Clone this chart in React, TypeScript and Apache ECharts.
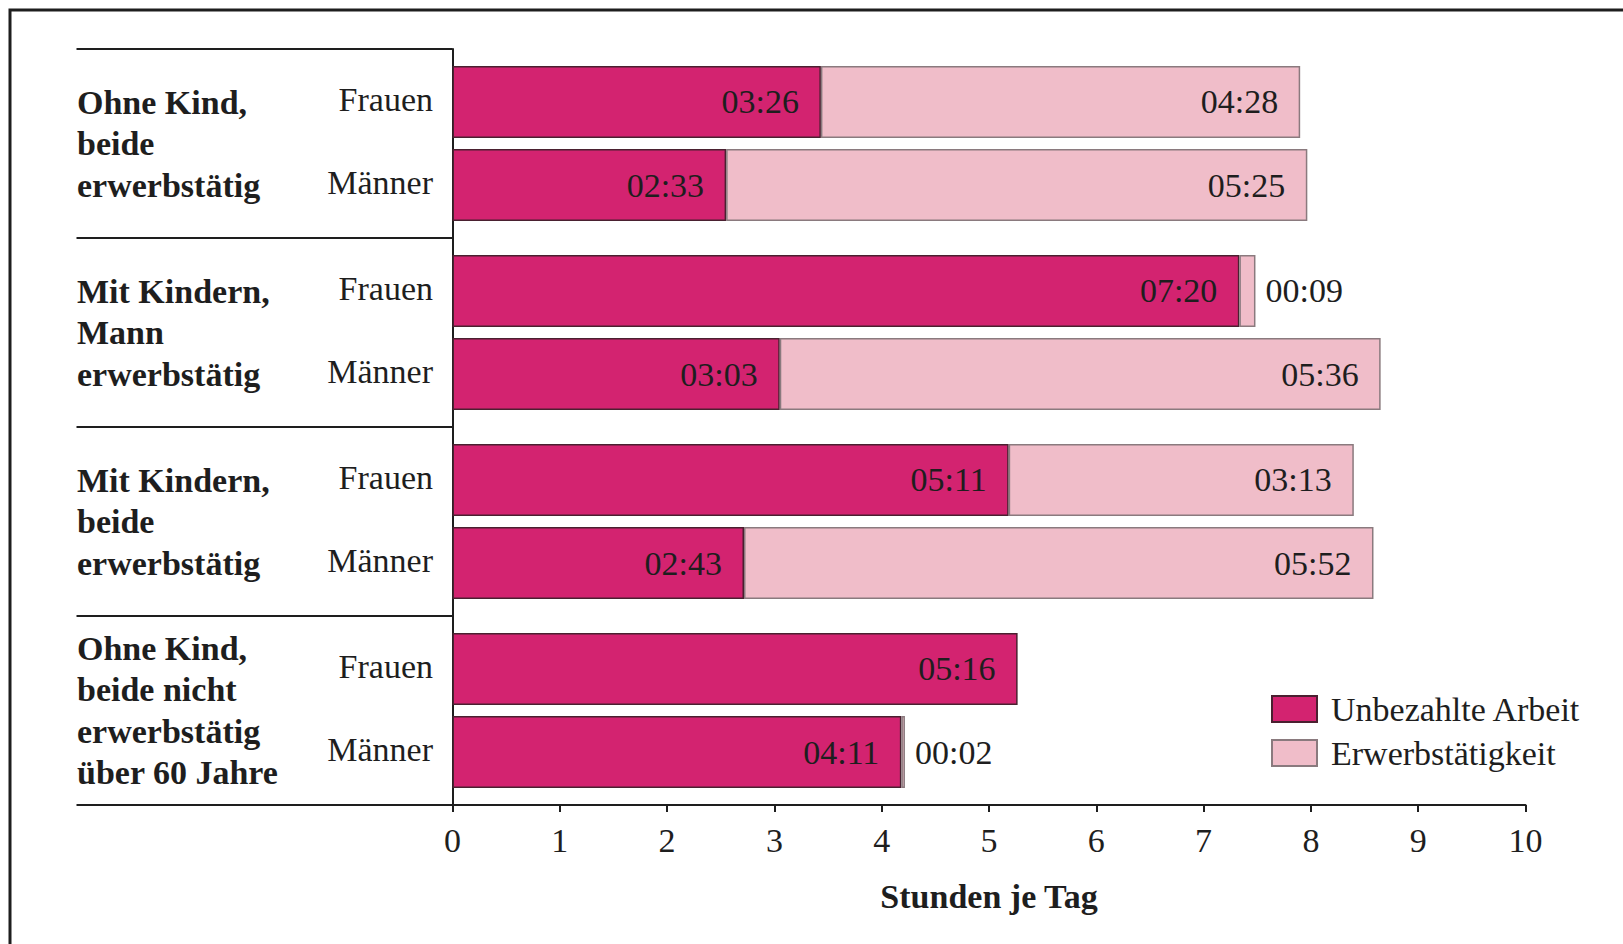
import React, { useEffect, useRef } from "react";
import * as echarts from "echarts";

const groupLabels = [
  "Ohne Kind,\nbeide\nerwerbstätig",
  "Mit Kindern,\nMann\nerwerbstätig",
  "Mit Kindern,\nbeide\nerwerbstätig",
  "Ohne Kind,\nbeide nicht\nerwerbstätig\nüber 60 Jahre",
];
const personLabels = ["Frauen", "Männer"];
const frauenUnbezahlt = ["03:26", "07:20", "05:11", "05:16"];
const frauenErwerb = ["04:28", "00:09", "03:13", null];
const maennerUnbezahlt = ["02:33", "03:03", "02:43", "04:11"];
const maennerErwerb = ["05:25", "05:36", "05:52", "00:02"];
const xTicks = [0, 10, 1];
const seriesNames = ["Unbezahlte Arbeit", "Erwerbstätigkeit"];

const FONT = '"Liberation Serif", "DejaVu Serif", serif';
const MAGENTA = "#D32370";
const PINK = "#F0BDC9";
const INK = "#1e1e1e";

const toHours = (s: string | null) => {
  if (!s) return null;
  const [h, m] = s.split(":").map(Number);
  return h + m / 60;
};

const GRID_LEFT = 452.5;
const GRID_TOP = 49;
const GRID_RIGHT_X = 1525.5;
const GRID_BOTTOM_Y = 805;
const BAR_W = 72;
const BAR_GAP = 11;

function makeSeries(name: string, stack: string, vals: (string | null)[], color: string, border: string) {
  return {
    type: "bar",
    name,
    stack,
    barWidth: BAR_W,
    barGap: ((BAR_GAP / BAR_W) * 100).toFixed(1) + "%",
    itemStyle: { color, borderColor: border, borderWidth: 1.5 },
    data: vals.map((v) => {
      const h = toHours(v);
      if (h === null) return null;
      const small = h < 0.5;
      return {
        value: h,
        label: small
          ? { show: true, position: "right", distance: 10 }
          : { show: true, position: "insideRight", distance: 22 },
      };
    }),
    label: {
      show: true,
      fontFamily: FONT,
      fontSize: 34,
      color: INK,
      formatter: (p: any) => vals[p.dataIndex] ?? "",
    },
  };
}

export default function App() {
  const ref = useRef<HTMLDivElement>(null);
  useEffect(() => {
    if (!ref.current) return;
    const chart = echarts.init(ref.current, undefined, { renderer: "svg" });
    const band = (GRID_BOTTOM_Y - GRID_TOP) / groupLabels.length;
    const half = (BAR_W + BAR_GAP) / 2;
    const personTexts: any[] = [];
    groupLabels.forEach((_, i) => {
      const c = GRID_TOP + band * (i + 0.5);
      personLabels.forEach((p, j) => {
        personTexts.push({
          type: "text",
          x: 433,
          y: c + (j === 0 ? -half : half) - 3,
          style: {
            text: p,
            fontFamily: FONT,
            fontSize: 34,
            fill: INK,
            textAlign: "right",
            textVerticalAlign: "middle",
          },
        });
      });
    });
    chart.setOption({
      animation: false,
      textStyle: { fontFamily: FONT },
      grid: {
        left: GRID_LEFT,
        top: GRID_TOP,
        right: 1623 - GRID_RIGHT_X,
        bottom: 944 - GRID_BOTTOM_Y,
        containLabel: false,
      },
      legend: {
        orient: "vertical",
        left: 1266,
        top: 687,
        itemWidth: 45,
        itemHeight: 26,
        itemGap: 10,
        icon: "rect",
        data: seriesNames,
        textStyle: {
          fontFamily: FONT,
          fontSize: 34,
          color: INK,
          lineHeight: 26,
          padding: [0, 0, 0, 9],
        },
      },
      xAxis: {
        type: "value",
        min: xTicks[0],
        max: xTicks[1],
        interval: xTicks[2],
        splitLine: { show: false },
        axisLine: { show: true, lineStyle: { color: INK, width: 2 } },
        axisTick: { show: true, length: 7, lineStyle: { color: INK, width: 2 } },
        axisLabel: { fontFamily: FONT, fontSize: 34, color: INK, margin: 18 },
        name: "Stunden je Tag",
        nameLocation: "middle",
        nameGap: 74,
        nameTextStyle: { fontFamily: FONT, fontSize: 34, fontWeight: "bold", color: INK },
      },
      yAxis: {
        type: "category",
        inverse: true,
        data: groupLabels,
        axisLine: { show: true, lineStyle: { color: INK, width: 2 } },
        axisTick: { show: true, length: 376, lineStyle: { color: INK, width: 2 } },
        axisLabel: {
          align: "left",
          margin: GRID_LEFT - 77,
          fontFamily: FONT,
          fontSize: 34,
          fontWeight: "bold",
          lineHeight: 41.5,
          color: INK,
        },
      },
      series: [
        makeSeries(seriesNames[0], "F", frauenUnbezahlt, MAGENTA, "#4a2030"),
        makeSeries(seriesNames[1], "F", frauenErwerb, PINK, "#8a7a7e"),
        makeSeries(seriesNames[0], "M", maennerUnbezahlt, MAGENTA, "#4a2030"),
        makeSeries(seriesNames[1], "M", maennerErwerb, PINK, "#8a7a7e"),
      ],
      graphic: [
        {
          type: "rect",
          shape: { x: 10, y: 10, width: 1700, height: 1000 },
          style: { fill: "none", stroke: INK, lineWidth: 3 },
          z: -10,
          silent: true,
        },
        ...personTexts,
      ],
    });
    return () => chart.dispose();
  }, []);
  return (
    <div
      ref={ref}
      style={{ position: "absolute", left: 0, top: 0, width: 1623, height: 944, background: "#fff" }}
    />
  );
}
